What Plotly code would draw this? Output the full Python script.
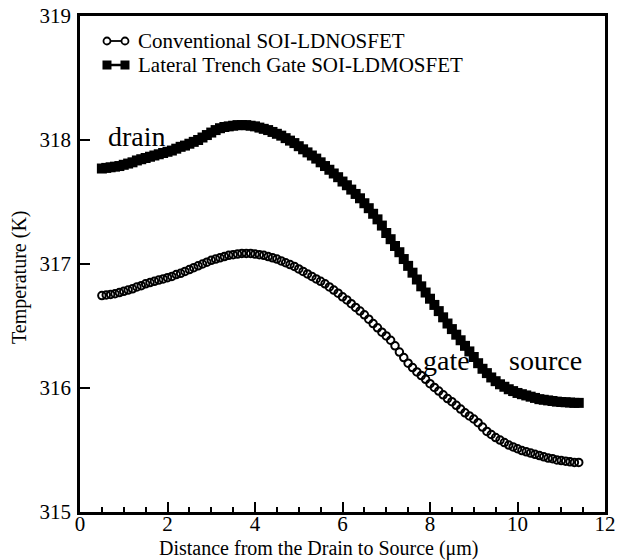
import plotly.graph_objects as go

x_pos = [0.5, 0.6, 0.7, 0.8, 0.9, 1.0, 1.1, 1.2, 1.3, 1.4,
         1.5, 1.6, 1.7, 1.8, 1.9, 2.0, 2.1, 2.2, 2.3, 2.4,
         2.5, 2.6, 2.7, 2.8, 2.9, 3.0, 3.1, 3.2, 3.3, 3.4,
         3.5, 3.6, 3.7, 3.8, 3.9, 4.0, 4.1, 4.2, 4.3, 4.4,
         4.5, 4.6, 4.7, 4.8, 4.9, 5.0, 5.1, 5.2, 5.3, 5.4,
         5.5, 5.6, 5.7, 5.8, 5.9, 6.0, 6.1, 6.2, 6.3, 6.4,
         6.5, 6.6, 6.7, 6.8, 6.9, 7.0, 7.1, 7.2, 7.3, 7.4,
         7.5, 7.6, 7.7, 7.8, 7.9, 8.0, 8.1, 8.2, 8.3, 8.4,
         8.5, 8.6, 8.7, 8.8, 8.9, 9.0, 9.1, 9.2, 9.3, 9.4,
         9.5, 9.6, 9.7, 9.8, 9.9, 10.0, 10.1, 10.2, 10.3, 10.4,
         10.5, 10.6, 10.7, 10.8, 10.9, 11.0, 11.1, 11.2, 11.3, 11.4]

temp_conventional = [
    316.745, 316.75, 316.755, 316.76, 316.77, 316.78, 316.79, 316.80, 316.815, 316.825,
    316.84, 316.85, 316.86, 316.87, 316.88, 316.89, 316.90, 316.915, 316.925, 316.94,
    316.955, 316.97, 316.985, 317.00, 317.015, 317.03, 317.04, 317.05, 317.06, 317.07,
    317.075, 317.08, 317.085, 317.085, 317.085, 317.08, 317.075, 317.07, 317.06, 317.05,
    317.04, 317.025, 317.01, 316.995, 316.98, 316.96, 316.94, 316.92, 316.90, 316.88,
    316.86, 316.84, 316.815, 316.79, 316.765, 316.735, 316.71, 316.68, 316.65, 316.62,
    316.59, 316.555, 316.52, 316.485, 316.45, 316.42, 316.385, 316.34, 316.29, 316.245,
    316.20, 316.165, 316.13, 316.10, 316.07, 316.035, 316.005, 315.975, 315.945, 315.915,
    315.89, 315.86, 315.83, 315.80, 315.775, 315.75, 315.72, 315.685, 315.65, 315.625,
    315.60, 315.58, 315.56, 315.54, 315.525, 315.51, 315.495, 315.485, 315.475, 315.465,
    315.455, 315.445, 315.435, 315.43, 315.42, 315.415, 315.41, 315.405, 315.40, 315.40]

temp_trench = [
    317.77, 317.775, 317.78, 317.785, 317.79, 317.80, 317.81, 317.82, 317.835, 317.845,
    317.855, 317.865, 317.875, 317.885, 317.895, 317.905, 317.915, 317.93, 317.945, 317.955,
    317.97, 317.985, 318.00, 318.02, 318.04, 318.06, 318.08, 318.095, 318.105, 318.11,
    318.115, 318.12, 318.12, 318.12, 318.115, 318.11, 318.10, 318.09, 318.08, 318.065,
    318.05, 318.035, 318.015, 317.995, 317.975, 317.95, 317.925, 317.90, 317.875, 317.85,
    317.82, 317.79, 317.76, 317.73, 317.70, 317.665, 317.635, 317.60, 317.565, 317.53,
    317.49, 317.45, 317.405, 317.36, 317.31, 317.25, 317.20, 317.145, 317.095, 317.04,
    316.985, 316.93, 316.875, 316.82, 316.77, 316.72, 316.67, 316.62, 316.57, 316.52,
    316.475, 316.43, 316.385, 316.34, 316.295, 316.25, 316.20, 316.155, 316.12, 316.085,
    316.055, 316.03, 316.01, 315.99, 315.975, 315.96, 315.95, 315.94, 315.93, 315.92,
    315.91, 315.905, 315.90, 315.895, 315.89, 315.887, 315.885, 315.883, 315.88, 315.88]

series_names = ["Conventional SOI-LDNOSFET", "Lateral Trench Gate SOI-LDMOSFET"]
region_labels = ["drain", "gate", "source"]
region_x = [1.3, 8.37, 10.63]
region_y = [318.03, 316.22, 316.22]
x_title = "Distance from the Drain to Source (\u03bcm)"
y_title = "Temperature (K)"

FONT = "Liberation Serif, Times New Roman, serif"

fig = go.Figure()
fig.add_trace(go.Scatter(
    x=x_pos, y=temp_conventional, mode="markers", name=series_names[0],
    marker=dict(symbol="circle-open", size=7.5, color="black", line=dict(width=2, color="black")),
    showlegend=False))
fig.add_trace(go.Scatter(
    x=x_pos, y=temp_trench, mode="markers", name=series_names[1],
    marker=dict(symbol="square", size=10, color="black", line=dict(width=0)),
    showlegend=False))

for t, xx, yy in zip(region_labels, region_x, region_y):
    fig.add_annotation(x=xx, y=yy, text=t, showarrow=False,
                       font=dict(family=FONT, size=28, color="black"),
                       xanchor="center", yanchor="middle")

# manual legend (symbols as shapes, text as annotations)
leg_y = [0.9496, 0.9012]
sym_x = [0.0514, 0.0857]
text_x = 0.106
fig.add_shape(type="line", xref="paper", yref="paper",
              x0=sym_x[0], x1=sym_x[1], y0=leg_y[0], y1=leg_y[0],
              line=dict(color="black", width=1.8))
for sx in sym_x:
    fig.add_shape(type="circle", xref="paper", yref="paper",
                  xsizemode="pixel", ysizemode="pixel", xanchor=sx, yanchor=leg_y[0],
                  x0=-3.5, x1=3.5, y0=-3.5, y1=3.5,
                  line=dict(color="black", width=1.8), fillcolor="white")
fig.add_shape(type="line", xref="paper", yref="paper",
              x0=sym_x[0], x1=sym_x[1], y0=leg_y[1], y1=leg_y[1],
              line=dict(color="black", width=2.5))
for sx in sym_x:
    fig.add_shape(type="rect", xref="paper", yref="paper",
                  xsizemode="pixel", ysizemode="pixel", xanchor=sx, yanchor=leg_y[1],
                  x0=-4.5, x1=4.5, y0=-4.5, y1=4.5,
                  line=dict(color="black", width=0), fillcolor="black")
for name, ly in zip(series_names, leg_y):
    fig.add_annotation(xref="paper", yref="paper", x=text_x, y=ly, text=name,
                       showarrow=False, xanchor="left", yanchor="middle",
                       font=dict(family=FONT, size=21, color="black"))

# axis titles (placed like the reference, offset from the plot centre)
fig.add_annotation(xref="paper", yref="paper", x=0.455, y=-0.0726, text=x_title,
                   showarrow=False, xanchor="center", yanchor="middle",
                   font=dict(family=FONT, size=20, color="black"))
fig.add_annotation(xref="paper", yref="paper", x=-0.114, y=0.474, text=y_title,
                   showarrow=False, xanchor="center", yanchor="middle", textangle=-90,
                   font=dict(family=FONT, size=20, color="black"))

fig.update_layout(
    width=624, height=560,
    margin=dict(l=80, r=19, t=16, b=48, autoexpand=False),
    paper_bgcolor="white", plot_bgcolor="white",
    font=dict(family=FONT, size=20, color="black"),
)
fig.update_xaxes(
    range=[0, 12], dtick=2, tick0=0, ticks="inside", ticklen=10, tickwidth=2,
    tickcolor="black", showline=True, linewidth=2.5, linecolor="black", mirror=True,
    showgrid=False, zeroline=False, automargin=False, ticklabelstandoff=-9,
    minor=dict(dtick=0.5, ticks="inside", ticklen=5, tickwidth=1.5, tickcolor="black", showgrid=False),
    tickfont=dict(family=FONT, size=21, color="black"))
fig.update_yaxes(
    range=[315, 319], dtick=1, tick0=315, ticks="inside", ticklen=10, tickwidth=2,
    tickcolor="black", showline=True, linewidth=2.5, linecolor="black", mirror=True,
    showgrid=False, zeroline=False, automargin=False, ticklabelstandoff=2,
    tickfont=dict(family=FONT, size=21, color="black"))

fig.write_html("out.html")
